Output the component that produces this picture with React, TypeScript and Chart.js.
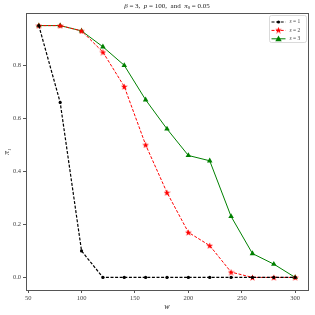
import React, { useEffect, useRef } from "react";
import { Chart, registerables } from "chart.js";

Chart.register(...registerables);

const wValues = [60, 80, 100, 120, 140, 160, 180, 200, 220, 240, 260, 280, 300];
const s1Values = [0.95, 0.66, 0.1, 0, 0, 0, 0, 0, 0, 0, 0, 0, 0];
const s2Values = [0.95, 0.95, 0.93, 0.85, 0.72, 0.5, 0.32, 0.17, 0.12, 0.02, 0, 0, 0];
const s3Values = [0.95, 0.95, 0.93, 0.87, 0.8, 0.67, 0.56, 0.46, 0.44, 0.23, 0.09, 0.05, 0.0];
const seriesLabels = ["1", "2", "3"];
const xTicks = [50, 100, 150, 200, 250, 300];
const yTicks = [0, 0.2, 0.4, 0.6, 0.8];

const SERIF = "'Liberation Serif', 'DejaVu Serif', serif";

function makeStar(size: number, color: string) {
  const c = document.createElement("canvas");
  c.width = size;
  c.height = size;
  const ctx = c.getContext("2d")!;
  ctx.fillStyle = color;
  ctx.beginPath();
  const cx = size / 2, cy = size / 2 + 0.4, R = size / 2, r = R * 0.42;
  for (let i = 0; i < 10; i++) {
    const a = -Math.PI / 2 + (i * Math.PI) / 5;
    const rad = i % 2 ? r : R;
    ctx.lineTo(cx + rad * Math.cos(a), cy + rad * Math.sin(a));
  }
  ctx.closePath();
  ctx.fill();
  return c;
}

function drawSegments(ctx: CanvasRenderingContext2D, segs: { t: string; it?: boolean; sub?: boolean }[], x: number, y: number, size: number, align: "center" | "left") {
  const fontFor = (s: { it?: boolean; sub?: boolean }) =>
    `${s.it ? "italic " : ""}${s.sub ? size * 0.7 : size}px ${SERIF}`;
  let total = 0;
  for (const s of segs) {
    ctx.font = fontFor(s);
    total += ctx.measureText(s.t).width;
  }
  let cx = align === "center" ? x - total / 2 : x;
  ctx.textAlign = "left";
  ctx.textBaseline = "middle";
  for (const s of segs) {
    ctx.font = fontFor(s);
    ctx.fillText(s.t, cx, s.sub ? y + size * 0.25 : y);
    cx += ctx.measureText(s.t).width;
  }
}

export default function App() {
  const ref = useRef<HTMLCanvasElement | null>(null);

  useEffect(() => {
    const canvas = ref.current!;
    const star = makeStar(7, "#ff0000");

    const mk = (vals: number[]) => wValues.map((w, i) => ({ x: w, y: vals[i] }));

    const framePlugin = {
      id: "frame",
      afterDraw(chart: any) {
        const { ctx, chartArea: a } = chart;
        ctx.save();
        ctx.strokeStyle = "#555";
        ctx.lineWidth = 1;
        ctx.strokeRect(Math.round(a.left) + 0.5, Math.round(a.top) + 0.5, Math.round(a.right - a.left), Math.round(a.bottom - a.top));
        // title
        ctx.fillStyle = "#222";
        drawSegments(
          ctx,
          [
            { t: "β", it: true },
            { t: " = 3,  " },
            { t: "p", it: true },
            { t: " = 100,  and  " },
            { t: "π", it: true },
            { t: "0", sub: true },
            { t: " = 0.05" },
          ],
          (a.left + a.right) / 2,
          6,
          7,
          "center"
        );
        // legend
        const bx = a.right - 39, by = a.top + 2, bw = 37, bh = 27;
        ctx.fillStyle = "rgba(255,255,255,0.85)";
        ctx.strokeStyle = "#d0d0d0";
        ctx.lineWidth = 0.8;
        ctx.beginPath();
        (ctx as any).roundRect(bx + 0.5, by + 0.5, bw, bh, 2);
        ctx.fill();
        ctx.stroke();
        const ds = chart.data.datasets;
        ds.forEach((d: any, i: number) => {
          const y = by + 7 + i * 8.4;
          const lx = bx + 2.5;
          ctx.save();
          ctx.strokeStyle = d.borderColor;
          ctx.lineWidth = d.borderWidth;
          ctx.setLineDash(d.borderDash || []);
          ctx.beginPath();
          ctx.moveTo(lx, y);
          ctx.lineTo(lx + 14, y);
          ctx.stroke();
          ctx.setLineDash([]);
          const mx = lx + 7;
          if (i === 0) {
            ctx.fillStyle = "#000";
            ctx.beginPath();
            ctx.arc(mx, y, 1.6, 0, Math.PI * 2);
            ctx.fill();
          } else if (i === 1) {
            ctx.drawImage(star, mx - 3.5, y - 3.9);
          } else {
            ctx.fillStyle = "#008000";
            ctx.beginPath();
            ctx.moveTo(mx, y - 3.2);
            ctx.lineTo(mx + 3.2, y + 2.4);
            ctx.lineTo(mx - 3.2, y + 2.4);
            ctx.closePath();
            ctx.fill();
          }
          ctx.restore();
          ctx.fillStyle = "#444";
          drawSegments(ctx, [{ t: "s", it: true }, { t: " = " + seriesLabels[i] }], lx + 18, y, 5.5, "left");
        });
        ctx.restore();
      },
    };

    const chart = new Chart(canvas, {
      type: "line",
      data: {
        datasets: [
          {
            label: "s = " + seriesLabels[0],
            data: mk(s1Values),
            borderColor: "#000000",
            backgroundColor: "#000000",
            borderWidth: 1.2,
            borderDash: [3, 1.6],
            pointStyle: "circle",
            pointRadius: 1.6,
            pointBorderWidth: 0,
          },
          {
            label: "s = " + seriesLabels[1],
            data: mk(s2Values),
            borderColor: "#ff0000",
            backgroundColor: "#ff0000",
            borderWidth: 1,
            borderDash: [3, 1.6],
            pointStyle: star as any,
            pointRadius: 3.5,
            pointBorderWidth: 0,
          },
          {
            label: "s = " + seriesLabels[2],
            data: mk(s3Values),
            borderColor: "#008000",
            backgroundColor: "#008000",
            borderWidth: 1,
            pointStyle: "triangle",
            pointRadius: 3.2,
            pointBorderWidth: 0,
          },
        ],
      },
      options: {
        animation: false,
        responsive: false,
        maintainAspectRatio: false,
        layout: { padding: { top: 13, right: 7, left: 0, bottom: 0 } },
        plugins: { legend: { display: false }, title: { display: false }, tooltip: { enabled: false } },
        scales: {
          x: {
            type: "linear",
            min: 48,
            max: 312,
            afterBuildTicks: (s: any) => {
              s.ticks = xTicks.map((v) => ({ value: v }));
            },
            afterFit: (s: any) => {
              s.height = 25;
            },
            border: { display: false },
            grid: { drawOnChartArea: false, drawTicks: true, tickLength: 3, color: "#555" },
            ticks: { color: "#444", font: { family: SERIF, size: 6.5 }, padding: 1, maxRotation: 0, callback: (v: any) => String(v) },
            title: { display: true, text: "w", color: "#222", font: { family: SERIF, size: 8, style: "italic" }, padding: { top: 0, bottom: 3 } },
          },
          y: {
            type: "linear",
            min: -0.0475,
            max: 0.9975,
            afterBuildTicks: (s: any) => {
              s.ticks = yTicks.map((v) => ({ value: v }));
            },
            afterFit: (s: any) => {
              s.width = 26;
            },
            border: { display: false },
            grid: { drawOnChartArea: false, drawTicks: true, tickLength: 3, color: "#555" },
            ticks: { color: "#444", font: { family: SERIF, size: 6.5 }, padding: 2, callback: (v: any) => Number(v).toFixed(1) },
            title: { display: true, text: "π₁", color: "#222", font: { family: SERIF, size: 7.5, style: "italic" }, padding: { top: 3, bottom: 0 } },
          },
        },
      },
      plugins: [framePlugin],
    } as any);

    return () => chart.destroy();
  }, []);

  return (
    <div style={{ position: "fixed", left: 0, top: 0, width: 315, height: 315, background: "#fff" }}>
      <canvas ref={ref} width={315} height={315} style={{ width: 315, height: 315, display: "block" }} />
    </div>
  );
}
